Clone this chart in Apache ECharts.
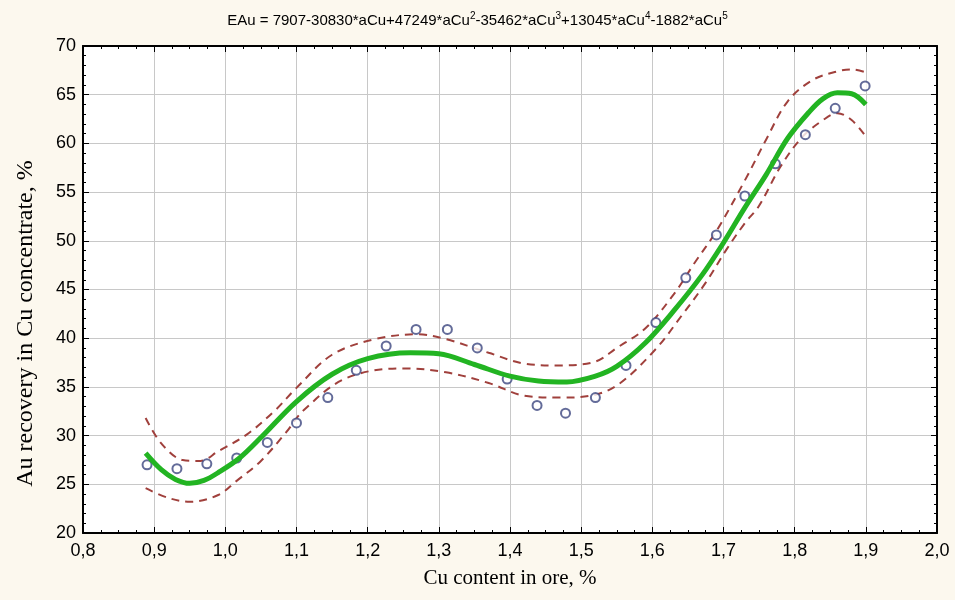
<!DOCTYPE html>
<html><head><meta charset="utf-8">
<script src="https://cdn.jsdelivr.net/npm/echarts@6/dist/echarts.min.js"></script>
<style>html,body{margin:0;padding:0;background:#fcf8ee}#c{width:955px;height:600px}</style>
</head><body><div id="c"></div>
<script>
// Observed data points (Cu content in ore, Au recovery)
const pointX = [0.890,0.932,0.974,1.016,1.059,1.100,1.144,1.184,1.226,1.268,1.312,1.354,1.396,1.438,1.478,1.520,1.563,1.605,1.647,1.690,1.730,1.773,1.815,1.857,1.899];
const pointY = [27.0,26.6,27.1,27.7,29.3,31.3,33.9,36.7,39.2,40.9,40.9,39.0,35.8,33.1,32.3,33.9,37.2,41.6,46.2,50.6,54.6,57.9,60.9,63.6,65.9];
// Fitted curve
const curveX = [0.888,0.91,0.93,0.95,0.97,0.99,1.02,1.05,1.10,1.15,1.20,1.26,1.30,1.35,1.40,1.44,1.48,1.52,1.55,1.59,1.63,1.67,1.70,1.73,1.76,1.79,1.82,1.84,1.86,1.88,1.90];
const curveY = [28.2,26.5,25.5,25.1,25.4,26.2,27.7,29.8,33.5,36.3,37.9,38.5,38.4,37.3,36.1,35.6,35.5,36.1,37.1,39.5,42.8,46.5,49.8,53.4,56.8,60.5,63.2,64.6,65.2,65.1,64.0];
// Upper confidence band
const upperX = [0.888,0.91,0.94,0.965,0.99,1.03,1.07,1.10,1.15,1.21,1.27,1.31,1.37,1.42,1.47,1.52,1.55,1.59,1.63,1.66,1.69,1.73,1.76,1.79,1.825,1.86,1.88,1.90];
const upperY = [31.8,29.2,27.5,27.4,28.4,30.1,32.6,34.9,38.3,39.9,40.4,39.9,38.5,37.4,37.2,37.6,39.0,41.0,44.5,47.8,51.0,56.2,60.4,64.3,66.5,67.4,67.6,67.3];
// Lower confidence band
const lowerX = [0.888,0.92,0.95,0.99,1.015,1.05,1.085,1.11,1.17,1.25,1.31,1.37,1.42,1.47,1.52,1.555,1.605,1.64,1.675,1.705,1.73,1.75,1.78,1.81,1.84,1.86,1.88,1.90];
const lowerY = [24.6,23.6,23.2,23.9,25.3,27.4,30.3,32.6,35.9,36.9,36.5,35.4,34.1,33.9,34.2,35.4,38.9,42.2,45.7,49.2,51.8,53.6,57.6,60.6,62.4,63.1,62.4,60.7];

const xMin = 0.8, xMax = 2.0, xStep = 0.1;
const yMin = 20, yMax = 70, yStep = 5;
const titleText = 'EAu = 7907-30830*aCu+47249*aCu{s|2}-35462*aCu{s|3}+13045*aCu{s|4}-1882*aCu{s|5}';
const xName = 'Cu content in ore, %';
const yName = 'Au recovery in Cu concentrate, %';

const zip = (a, b) => a.map((v, i) => [v, b[i]]);
const sans = 'Liberation Sans, Arial, sans-serif';
const serif = 'Liberation Serif, Times New Roman, serif';

const tickCommon = {
  axisLine: {show: true, lineStyle: {color: '#000', width: 2}},
  axisTick: {show: true, inside: true, length: 6, lineStyle: {color: '#000', width: 1}},
  minorTick: {show: true, length: 3, lineStyle: {color: '#000', width: 1}}
};

const chart = echarts.init(document.getElementById('c'), null, {renderer: 'canvas'});
chart.setOption({
  backgroundColor: '#fcf8ee',
  animation: false,
  title: {
    text: titleText, left: 'center', top: 6,
    textStyle: {fontFamily: sans, fontSize: 15, fontWeight: 'normal', color: '#000',
      rich: {s: {fontFamily: sans, fontSize: 10, color: '#000', padding: [0, 0, 9, 0]}}}
  },
  grid: {left: 83, right: 18, top: 46, bottom: 67, show: true, backgroundColor: '#fff', borderWidth: 0},
  xAxis: [{
    type: 'value', min: xMin, max: xMax, interval: xStep, position: 'bottom',
    name: xName, nameLocation: 'middle', nameGap: 35,
    nameTextStyle: {fontFamily: serif, fontSize: 21, color: '#000'},
    axisLabel: {fontFamily: sans, fontSize: 18, color: '#000', margin: 9,
      formatter: v => v.toFixed(1).replace('.', ',')},
    splitLine: {show: true, lineStyle: {color: '#c8c8c8', width: 1}},
    minorTick: Object.assign({}, tickCommon.minorTick, {splitNumber: 4}),
    axisLine: tickCommon.axisLine, axisTick: tickCommon.axisTick
  }, {
    type: 'value', min: xMin, max: xMax, interval: xStep, position: 'top',
    axisLabel: {show: false}, splitLine: {show: false},
    minorTick: Object.assign({}, tickCommon.minorTick, {splitNumber: 4}),
    axisLine: tickCommon.axisLine, axisTick: tickCommon.axisTick
  }],
  yAxis: [{
    type: 'value', min: yMin, max: yMax, interval: yStep, position: 'left',
    name: yName, nameLocation: 'middle', nameGap: 45,
    nameTextStyle: {fontFamily: serif, fontSize: 24, color: '#000', padding: [0, 68, 0, 0]},
    axisLabel: {fontFamily: sans, fontSize: 18, color: '#000', margin: 7},
    splitLine: {show: true, lineStyle: {color: '#c8c8c8', width: 1}},
    minorTick: Object.assign({}, tickCommon.minorTick, {splitNumber: 5}),
    axisLine: tickCommon.axisLine, axisTick: tickCommon.axisTick
  }, {
    type: 'value', min: yMin, max: yMax, interval: yStep, position: 'right',
    axisLabel: {show: false}, splitLine: {show: false},
    minorTick: Object.assign({}, tickCommon.minorTick, {splitNumber: 5}),
    axisLine: tickCommon.axisLine, axisTick: tickCommon.axisTick
  }],
  series: [
    {type: 'line', data: zip(upperX, upperY), smooth: 0.35, showSymbol: false,
      lineStyle: {color: '#a0403c', width: 2, type: [8, 6]}, z: 2},
    {type: 'line', data: zip(lowerX, lowerY), smooth: 0.35, showSymbol: false,
      lineStyle: {color: '#a0403c', width: 2, type: [8, 6]}, z: 2},
    {type: 'scatter', data: zip(pointX, pointY), symbol: 'emptyCircle', symbolSize: 9,
      itemStyle: {color: '#3c4680', borderColor: '#3c4680', borderWidth: 1}, z: 3},
    {type: 'line', data: zip(curveX, curveY), smooth: 0.35, showSymbol: false,
      lineStyle: {color: '#22b422', width: 5}, z: 4}
  ]
});
</script></body></html>
